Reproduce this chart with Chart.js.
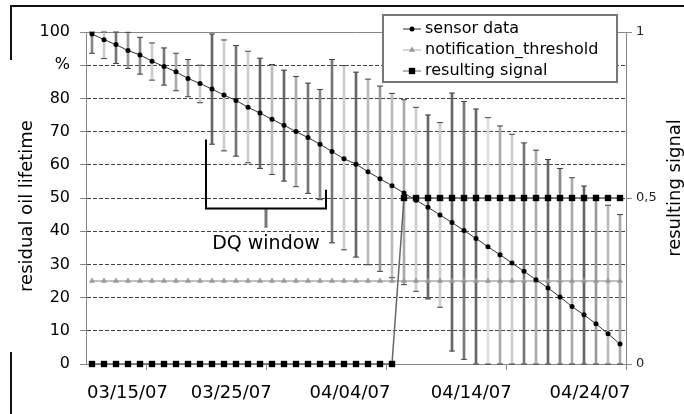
<!DOCTYPE html>
<html>
<head>
<meta charset="utf-8">
<script src="https://cdn.jsdelivr.net/npm/chart.js@4.4.1/dist/chart.umd.min.js"></script>
<style>
  html, body { margin: 0; padding: 0; background: #fff; }
  #wrap { width: 684px; height: 414px; }
</style>
</head>
<body>
<div id="wrap"><canvas id="oil-chart" width="684" height="414"></canvas></div>
<script>
// one reading per day, day index 0..44 on the x axis
const sensorData = [99.4, 97.7, 96.2, 94.4, 93.1, 91.2, 89.6, 88.0, 86.0, 84.5,
    82.8, 81.0, 79.4, 77.3, 75.6, 73.7, 71.9, 70.0, 68.2, 66.2,
    64.0, 61.8, 60.2, 57.9, 55.8, 53.7, 51.5, 49.3, 47.2, 44.9,
    42.6, 40.2, 37.8, 35.3, 32.9, 30.4, 27.9, 25.4, 22.9, 20.2,
    17.3, 14.8, 12.1, 9.1, 6.0];

// error bar ends (clipped by the axis at 0 and 100)
const errHigh = [100, 100, 100, 99.9, 98.4, 96.7, 95.2, 93.6, 91.7, 90.0,
    99.4, 97.6, 95.9, 94.2, 92.1, 90.2, 88.5, 86.6, 84.6, 82.7,
    91.7, 89.9, 87.9, 85.8, 83.7, 81.5, 79.6, 77.3, 75.0, 72.7,
    81.6, 79.1, 76.8, 74.2, 71.7, 69.2, 66.6, 64.4, 61.6, 58.9,
    56.1, 53.6, 50.8, 47.8, 45.0];
const errLow = [93.6, 92.0, 90.5, 89.0, 87.3, 85.5, 84.0, 82.3, 80.5, 78.7,
    66.2, 64.2, 62.6, 60.6, 58.9, 57.1, 55.1, 53.4, 51.4, 49.5,
    36.5, 34.4, 32.2, 29.9, 27.9, 26.0, 23.9, 21.9, 19.6, 17.1,
    3.9, 1.4, 0, 0, 0, 0, 0, 0, 0, 0,
    0, 0, 0, 0, 0];

const thresholdData = [25, 25, 25, 25, 25, 25, 25, 25, 25, 25,
    25, 25, 25, 25, 25, 25, 25, 25, 25, 25,
    25, 25, 25, 25, 25, 25, 25, 25, 25, 25,
    25, 25, 25, 25, 25, 25, 25, 25, 25, 25,
    25, 25, 25, 25, 25];

const signalData = [0, 0, 0, 0, 0, 0, 0, 0, 0, 0,
    0, 0, 0, 0, 0, 0, 0, 0, 0, 0,
    0, 0, 0, 0, 0, 0, 0.5, 0.5, 0.5, 0.5,
    0.5, 0.5, 0.5, 0.5, 0.5, 0.5, 0.5, 0.5, 0.5, 0.5,
    0.5, 0.5, 0.5, 0.5, 0.5];

const dateLabels = ['03/15/07', '03/25/07', '04/04/07', '04/14/07', '04/24/07'];
const dateLabelAt = [2.96, 11.6, 21.5, 31.6, 41.5];
const tickMarksAt = [9.5, 19.5, 29.5, 39.5];

// "DQ window" bracket in data units
const dqWindow = { from: 9.5, to: 19.5, leftTop: 67.6, rightTop: 52.5, base: 46.8, stem: 41, textAt: 36.2, text: 'DQ window' };

const barShades = ['#888', '#ccc', '#777', '#999', '#888', '#ccc', '#777', '#aaa', '#999', '#ccc',
    '#666', '#ccc', '#777', '#ccc', '#666', '#bbb', '#666', '#aaa', '#777', '#888',
    '#777', '#ccc', '#666', '#bbb', '#999', '#bbb', '#aaa', '#ccc', '#666', '#ccc',
    '#666', '#777', '#666', '#ddd', '#aaa', '#ccc', '#777', '#aaa', '#666', '#888',
    '#aaa', '#666', '#999', '#bbb', '#aaa'];

Chart.defaults.font.family = "'DejaVu Sans', sans-serif";
Chart.defaults.color = '#000';

const FONT = "'DejaVu Sans', sans-serif";

const framePlugin = {
    id: 'frame',
    beforeDraw(chart) {
        const ctx = chart.ctx;
        ctx.save();
        ctx.fillStyle = '#fff';
        ctx.fillRect(0, 0, chart.width, chart.height);
        ctx.strokeStyle = '#111';
        ctx.lineWidth = 2;
        ctx.beginPath();
        ctx.moveTo(11, 414); ctx.lineTo(11, 352);
        ctx.moveTo(11, 60); ctx.lineTo(11, 6); ctx.lineTo(684, 6);
        ctx.stroke();
        ctx.restore();
    }
};

const dqPlugin = {
    id: 'dq',
    afterDatasetsDraw(chart) {
        const { ctx, scales: { x, y } } = chart;
        const x1 = x.getPixelForValue(dqWindow.from);
        const x2 = x.getPixelForValue(dqWindow.to);
        const xm = (x1 + x2) / 2;
        const yb = y.getPixelForValue(dqWindow.base);
        ctx.save();
        ctx.strokeStyle = '#777';
        ctx.lineWidth = 3;
        ctx.beginPath();
        ctx.moveTo(xm, yb); ctx.lineTo(xm, y.getPixelForValue(dqWindow.stem));
        ctx.stroke();
        ctx.strokeStyle = '#000';
        ctx.lineWidth = 2;
        ctx.beginPath();
        ctx.moveTo(x1, y.getPixelForValue(dqWindow.leftTop));
        ctx.lineTo(x1, yb); ctx.lineTo(x2, yb);
        ctx.lineTo(x2, y.getPixelForValue(dqWindow.rightTop));
        ctx.stroke();
        ctx.fillStyle = '#000';
        ctx.font = '19px ' + FONT;
        ctx.textAlign = 'center';
        ctx.textBaseline = 'middle';
        ctx.fillText(dqWindow.text, xm, y.getPixelForValue(dqWindow.textAt));
        ctx.restore();
    }
};

const legendBox = {
    id: 'legendBox',
    afterDraw(chart) {
        const ctx = chart.ctx;
        const items = chart.data.datasets.filter(ds => ds.label);
        ctx.save();
        ctx.fillStyle = '#fff';
        ctx.fillRect(383, 15, 234, 67);
        ctx.strokeStyle = '#777';
        ctx.lineWidth = 2;
        ctx.strokeRect(383, 15, 234, 67);
        ctx.font = '16px ' + FONT;
        ctx.textBaseline = 'middle';
        items.forEach((ds, i) => {
            const yy = 29 + i * 21;
            ctx.strokeStyle = ds.borderColor;
            ctx.lineWidth = 1;
            ctx.beginPath(); ctx.moveTo(403, yy); ctx.lineTo(421, yy); ctx.stroke();
            ctx.fillStyle = ds.pointBackgroundColor;
            Chart.helpers.drawPoint(ctx, { pointStyle: ds.pointStyle, radius: ds.pointRadius, borderWidth: 0, rotation: 0 }, 412, yy);
            ctx.fillStyle = '#000';
            ctx.fillText(ds.label, 425, yy);
        });
        ctx.restore();
    }
};

const axisTitles = {
    id: 'axisTitles',
    afterDraw(chart) {
        const ctx = chart.ctx;
        ctx.save();
        ctx.font = '18px ' + FONT;
        ctx.fillStyle = '#000';
        ctx.textAlign = 'center';
        ctx.textBaseline = 'middle';
        [['residual oil lifetime', 27, 206], ['resulting signal', 675, 188]].forEach(([t, px, py]) => {
            ctx.save();
            ctx.translate(px, py);
            ctx.rotate(-Math.PI / 2);
            ctx.fillText(t, 0, 0);
            ctx.restore();
        });
        ctx.restore();
    }
};

const canvas = document.querySelector('#oil-chart');

new Chart(canvas.getContext('2d'), {
    type: 'line',
    data: {
        datasets: [
            {
                label: 'sensor data',
                data: sensorData.map((v, i) => ({ x: i, y: v })),
                borderColor: '#333', borderWidth: 1,
                pointStyle: 'circle', pointRadius: 2.5, pointBackgroundColor: '#000', pointBorderWidth: 0,
                yAxisID: 'y', order: 1
            },
            {
                label: 'notification_threshold',
                data: thresholdData.map((v, i) => ({ x: i, y: v })),
                borderColor: '#aaa', borderWidth: 1.5,
                pointStyle: 'triangle', pointRadius: 3.5, pointBackgroundColor: '#999', pointBorderWidth: 0,
                yAxisID: 'y', order: 2
            },
            {
                label: 'resulting signal',
                data: signalData.map((v, i) => ({ x: i, y: v })),
                borderColor: '#666', borderWidth: 1.5,
                pointStyle: 'rect', pointRadius: 4.5, pointBackgroundColor: '#000', pointBorderWidth: 0,
                yAxisID: 'y1', order: 0, clip: 8
            },
            {
                type: 'bar',
                data: errLow.map((lo, i) => ({ x: i, y: [lo, errHigh[i]] })),
                backgroundColor: barShades,
                barThickness: 2, grouped: false,
                yAxisID: 'y', order: 4
            },
            {
                data: errHigh.map((v, i) => ({ x: i, y: v })).concat(errLow.map((v, i) => ({ x: i, y: v }))),
                showLine: false,
                pointStyle: 'line', pointRadius: 3, pointBorderColor: '#444', pointBorderWidth: 1,
                yAxisID: 'y', order: 3, clip: 4
            }
        ]
    },
    options: {
        responsive: false,
        animation: false,
        layout: { padding: { top: 32, left: 0, right: 0, bottom: 0 } },
        plugins: { legend: { display: false }, tooltip: { enabled: false } },
        scales: {
            x: {
                type: 'linear', position: 'bottom', min: -0.5, max: 44.5, offset: false, weight: 0,
                afterBuildTicks: axis => { axis.ticks = tickMarksAt.map(v => ({ value: v })); },
                ticks: { display: false },
                grid: { drawOnChartArea: false, tickLength: 6, tickColor: '#888', color: '#888' },
                border: { color: '#888' },
                afterFit: s => { s.height = 6; }
            },
            xl: {
                type: 'linear', position: 'bottom', min: -0.5, max: 44.5, offset: false, weight: 1,
                afterBuildTicks: axis => { axis.ticks = dateLabelAt.map(v => ({ value: v })); },
                ticks: { autoSkip: false, maxRotation: 0, padding: 13, font: { size: 18 }, color: '#000',
                    callback: (v, i) => dateLabels[i] },
                grid: { display: false, drawTicks: false },
                border: { display: false },
                afterFit: s => { s.height = 44; }
            },
            y: {
                type: 'linear', position: 'left', min: 0, max: 100,
                ticks: { stepSize: 10, padding: 10, font: { size: 16 }, color: '#000',
                    callback: v => v === 90 ? '%' : v },
                grid: {
                    color: c => !c.tick || c.tick.value === 0 ? 'rgba(0,0,0,0)' : (c.tick.value === 100 ? '#888' : '#444'),
                    tickLength: 6, tickColor: '#888'
                },
                border: { color: '#888', dash: c => (c.tick && c.tick.value > 0 && c.tick.value < 100) ? [4, 2] : [] },
                afterFit: s => { s.width = 86; }
            },
            y1: {
                type: 'linear', position: 'right', min: 0, max: 1,
                ticks: { stepSize: 0.5, padding: 4, font: { size: 13 }, color: '#222',
                    callback: v => v === 0.5 ? '0,5' : v },
                grid: { drawOnChartArea: false, tickLength: 6, tickColor: '#888', color: '#888' },
                border: { color: '#888' },
                afterFit: s => { s.width = 58; }
            }
        }
    },
    plugins: [framePlugin, dqPlugin, legendBox, axisTitles]
});
</script>
</body>
</html>
